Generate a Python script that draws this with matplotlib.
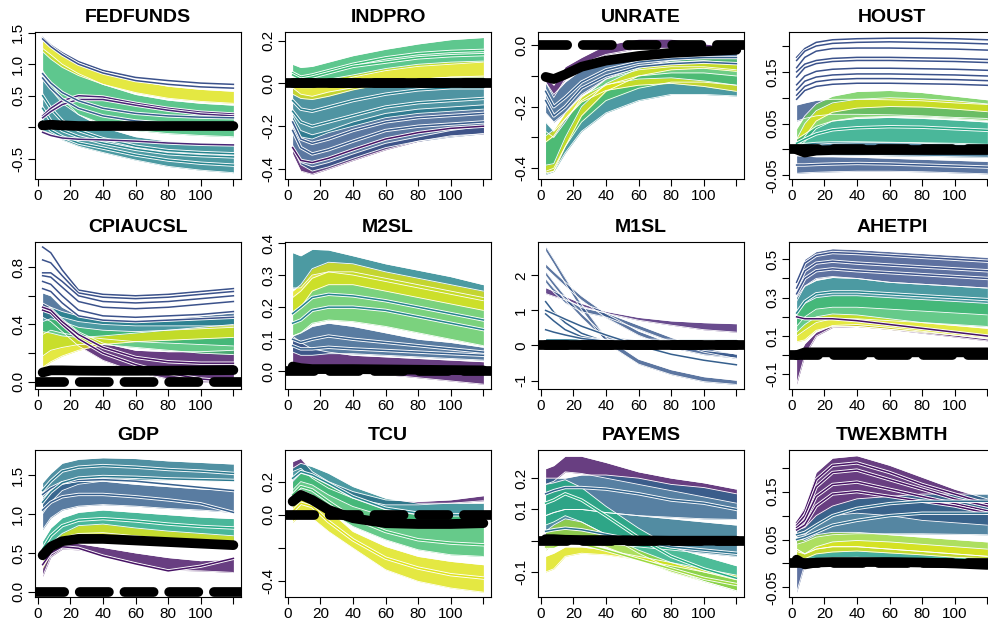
import matplotlib
matplotlib.use('Agg')
import matplotlib.pyplot as plt
import matplotlib.patheffects as pe

plt.rcParams['font.family'] = ['Liberation Sans', 'DejaVu Sans']

horizon = [3, 8, 15, 25, 40, 60, 80, 100, 120]
xticks = [0, 20, 40, 60, 80, 100, 120]
xlabels = ['0', '20', '40', '60', '80', '100', '']

# ---- FEDFUNDS ----
fedfunds_bands = [
    (0.45, [0.9, 0.7, 0.45, 0.2, 0.0, -0.15, -0.22, -0.25, -0.27], [-0.05, -0.1, -0.2, -0.3, -0.4, -0.52, -0.62, -0.68, -0.72]),
    (0.68, [1.25, 1.15, 1.0, 0.85, 0.68, 0.52, 0.43, 0.38, 0.35], [0.85, 0.6, 0.38, 0.2, 0.05, -0.05, -0.1, -0.13, -0.15]),
    (0.95, [1.38, 1.27, 1.14, 1.0, 0.87, 0.74, 0.65, 0.6, 0.57], [1.2, 1.08, 0.95, 0.82, 0.68, 0.55, 0.46, 0.41, 0.38]),
]
fedfunds_lines = [
    (0.45, [0.3, 0.1, -0.05, -0.15, -0.25, -0.35, -0.42, -0.45, -0.47]),
    (0.45, [0.5, 0.3, 0.1, -0.05, -0.18, -0.3, -0.37, -0.4, -0.42]),
    (0.45, [0.1, -0.05, -0.15, -0.25, -0.33, -0.44, -0.52, -0.57, -0.6]),
    (0.25, [1.42, 1.3, 1.18, 1.04, 0.9, 0.79, 0.74, 0.7, 0.68]),
    (0.25, [1.4, 1.28, 1.15, 1.0, 0.86, 0.74, 0.68, 0.64, 0.62]),
    (0.1, [0.18, 0.3, 0.42, 0.5, 0.48, 0.38, 0.3, 0.24, 0.21]),
    (0.1, [0.15, 0.25, 0.36, 0.44, 0.44, 0.35, 0.27, 0.21, 0.18]),
    (0.3, [0.85, 0.7, 0.55, 0.42, 0.3, 0.22, 0.18, 0.16, 0.15]),
    (0.3, [0.78, 0.62, 0.45, 0.3, 0.18, 0.1, 0.06, 0.05, 0.04]),
    (0.1, [-0.08, -0.13, -0.17, -0.19, -0.2, -0.22, -0.25, -0.27, -0.28]),
]
fedfunds_black = [0.03, 0.04, 0.03, 0.02, 0.02, 0.02, 0.02, 0.02, 0.02]
fedfunds_dash = None
fedfunds_ylim = (-0.82, 1.51)
fedfunds_yticks = [-0.5, 0.0, 0.5, 1.0, 1.5]
fedfunds_ylabels = ['-0.5', '', '0.5', '1.0', '1.5']

# ---- INDPRO ----
indpro_bands = [
    (0.05, [-0.3, -0.37, -0.39, -0.37, -0.33, -0.28, -0.25, -0.22, -0.2], [-0.33, -0.41, -0.425, -0.4, -0.36, -0.31, -0.27, -0.245, -0.235]),
    (0.28, [-0.15, -0.22, -0.24, -0.22, -0.18, -0.14, -0.12, -0.11, -0.1], [-0.3, -0.38, -0.41, -0.39, -0.35, -0.3, -0.27, -0.25, -0.235]),
    (0.42, [-0.02, -0.05, -0.06, -0.04, -0.02, 0.0, 0.02, 0.03, 0.035], [-0.2, -0.25, -0.26, -0.23, -0.2, -0.16, -0.14, -0.13, -0.12]),
    (0.68, [0.09, 0.075, 0.08, 0.1, 0.13, 0.16, 0.185, 0.205, 0.215], [0.0, -0.02, -0.02, 0.0, 0.03, 0.06, 0.08, 0.09, 0.1]),
    (0.95, [0.03, 0.01, 0.0, 0.02, 0.04, 0.07, 0.09, 0.1, 0.105], [-0.05, -0.07, -0.075, -0.06, -0.03, 0.0, 0.02, 0.03, 0.03]),
]
indpro_lines = [
    (0.28, [-0.18, -0.26, -0.28, -0.26, -0.22, -0.18, -0.16, -0.15, -0.14]),
    (0.28, [-0.22, -0.3, -0.33, -0.31, -0.27, -0.22, -0.2, -0.19, -0.18]),
    (0.42, [-0.08, -0.12, -0.13, -0.11, -0.08, -0.05, -0.03, -0.02, -0.02]),
    (0.42, [-0.13, -0.18, -0.2, -0.18, -0.15, -0.11, -0.09, -0.08, -0.07]),
    (0.68, [0.05, 0.03, 0.04, 0.06, 0.09, 0.12, 0.14, 0.15, 0.155]),
    (0.68, [0.04, 0.02, 0.03, 0.05, 0.08, 0.1, 0.12, 0.13, 0.135]),
    (0.05, [-0.3, -0.36, -0.37, -0.35, -0.31, -0.26, -0.23, -0.21, -0.2]),
]
indpro_black = [0.0, 0.0, 0.0, 0.0, 0.0, 0.0, 0.0, 0.0, 0.0]
indpro_dash = 0.0
indpro_ylim = (-0.447, 0.241)
indpro_yticks = [-0.4, -0.2, 0.0, 0.2]
indpro_ylabels = ['-0.4', '-0.2', '0.0', '0.2']

# ---- UNRATE ----
unrate_bands = [
    (0.05, [-0.1, -0.13, -0.07, -0.04, 0.0, 0.02, 0.02, 0.005, -0.01], [-0.12, -0.17, -0.11, -0.06, -0.03, -0.01, -0.01, -0.015, -0.02]),
    (0.3, [-0.12, -0.16, -0.12, -0.08, -0.06, -0.04, -0.03, -0.025, -0.025], [-0.22, -0.25, -0.22, -0.16, -0.11, -0.08, -0.07, -0.07, -0.08]),
    (0.45, [-0.25, -0.28, -0.24, -0.18, -0.13, -0.1, -0.09, -0.09, -0.1], [-0.42, -0.41, -0.35, -0.28, -0.22, -0.18, -0.16, -0.16, -0.165]),
    (0.72, [-0.28, -0.3, -0.25, -0.17, -0.11, -0.07, -0.05, -0.04, -0.04], [-0.41, -0.4, -0.33, -0.25, -0.18, -0.14, -0.12, -0.12, -0.13]),
    (0.95, [-0.295, -0.275, -0.22, -0.165, -0.128, -0.11, -0.106, -0.116, -0.13], [-0.315, -0.295, -0.24, -0.185, -0.147, -0.13, -0.124, -0.134, -0.15]),
    (0.95, [-0.39, -0.385, -0.3, -0.2, -0.125, -0.075, -0.055, -0.05, -0.06], [-0.415, -0.41, -0.33, -0.23, -0.15, -0.1, -0.08, -0.075, -0.085]),
]
unrate_lines = [
    (0.3, [-0.15, -0.2, -0.17, -0.12, -0.08, -0.055, -0.045, -0.04, -0.04]),
    (0.3, [-0.18, -0.23, -0.2, -0.14, -0.1, -0.07, -0.06, -0.055, -0.06]),
]
unrate_black = [-0.103, -0.11, -0.095, -0.07, -0.05, -0.035, -0.025, -0.02, -0.015]
unrate_dash = 0.0
unrate_ylim = (-0.435, 0.043)
unrate_yticks = [-0.4, -0.3, -0.2, -0.1, 0.0]
unrate_ylabels = ['-0.4', '', '-0.2', '', '0.0']

# ---- HOUST ----
houst_bands = [
    (0.27, [-0.012, -0.013, -0.014, -0.014, -0.015, -0.017, -0.019, -0.021, -0.023], [-0.046, -0.045, -0.044, -0.043, -0.042, -0.042, -0.043, -0.045, -0.047]),
    (0.27, [0.086, 0.09, 0.095, 0.097, 0.097, 0.096, 0.094, 0.09, 0.087], [0.055, 0.06, 0.065, 0.068, 0.068, 0.067, 0.065, 0.062, 0.06]),
    (0.78, [0.04, 0.065, 0.088, 0.103, 0.112, 0.114, 0.11, 0.103, 0.096], [0.0, 0.015, 0.04, 0.055, 0.062, 0.064, 0.063, 0.06, 0.056]),
    (0.95, [0.02, 0.05, 0.075, 0.09, 0.097, 0.1, 0.098, 0.094, 0.088], [0.0, 0.025, 0.055, 0.072, 0.08, 0.083, 0.082, 0.078, 0.073]),
    (0.6, [0.02, 0.03, 0.045, 0.055, 0.06, 0.062, 0.06, 0.057, 0.053], [0.0, 0.005, 0.01, 0.012, 0.013, 0.013, 0.012, 0.01, 0.008]),
    (0.35, [0.01, 0.012, 0.014, 0.015, 0.015, 0.014, 0.013, 0.012, 0.01], [-0.01, -0.01, -0.01, -0.01, -0.011, -0.012, -0.013, -0.014, -0.015]),
]
houst_lines = [
    (0.25, [0.178, 0.195, 0.207, 0.212, 0.214, 0.215, 0.215, 0.214, 0.212]),
    (0.25, [0.172, 0.19, 0.2, 0.205, 0.207, 0.208, 0.207, 0.206, 0.204]),
    (0.25, [0.158, 0.178, 0.19, 0.195, 0.196, 0.196, 0.195, 0.194, 0.192]),
    (0.25, [0.15, 0.165, 0.172, 0.176, 0.178, 0.178, 0.177, 0.176, 0.174]),
    (0.25, [0.14, 0.158, 0.166, 0.17, 0.172, 0.172, 0.171, 0.17, 0.168]),
    (0.25, [0.125, 0.142, 0.151, 0.155, 0.157, 0.157, 0.156, 0.155, 0.153]),
    (0.25, [0.115, 0.132, 0.14, 0.144, 0.146, 0.146, 0.145, 0.144, 0.142]),
    (0.25, [0.105, 0.122, 0.131, 0.135, 0.137, 0.137, 0.136, 0.135, 0.133]),
    (0.25, [0.097, 0.114, 0.122, 0.126, 0.128, 0.128, 0.127, 0.126, 0.124]),
    (0.6, [0.012, 0.02, 0.03, 0.038, 0.042, 0.044, 0.043, 0.04, 0.037]),
    (0.27, [-0.03, -0.03, -0.029, -0.028, -0.027, -0.028, -0.03, -0.032, -0.034]),
]
houst_black = [0.0, -0.006, -0.002, -0.001, -0.001, -0.001, -0.001, -0.001, -0.001]
houst_dash = 0.0
houst_ylim = (-0.057, 0.227)
houst_yticks = [-0.05, 0.0, 0.05, 0.1, 0.15, 0.2]
houst_ylabels = ['-0.05', '', '0.05', '', '0.15', '']

# ---- CPIAUCSL ----
cpi_bands = [
    (0.05, [0.55, 0.52, 0.44, 0.35, 0.27, 0.22, 0.21, 0.21, 0.22], [0.45, 0.42, 0.35, 0.25, 0.15, 0.07, 0.02, 0.0, 0.0]),
    (0.3, [0.62, 0.6, 0.52, 0.46, 0.44, 0.43, 0.44, 0.46, 0.48], [0.5, 0.48, 0.45, 0.42, 0.4, 0.39, 0.39, 0.39, 0.39]),
    (0.45, [0.5, 0.52, 0.49, 0.46, 0.44, 0.43, 0.43, 0.44, 0.45], [0.33, 0.36, 0.34, 0.32, 0.3, 0.28, 0.27, 0.26, 0.25]),
    (0.7, [0.42, 0.44, 0.42, 0.38, 0.36, 0.35, 0.36, 0.37, 0.38], [0.18, 0.22, 0.24, 0.26, 0.26, 0.24, 0.22, 0.2, 0.19]),
    (0.95, [0.35, 0.34, 0.32, 0.31, 0.32, 0.34, 0.36, 0.38, 0.4], [0.1, 0.14, 0.18, 0.22, 0.26, 0.28, 0.29, 0.3, 0.31]),
]
cpi_lines = [
    (0.05, [0.5, 0.48, 0.4, 0.3, 0.2, 0.12, 0.06, 0.02, 0.0]),
    (0.05, [0.52, 0.5, 0.42, 0.33, 0.24, 0.17, 0.14, 0.13, 0.13]),
    (0.25, [0.94, 0.9, 0.78, 0.64, 0.61, 0.6, 0.61, 0.63, 0.65]),
    (0.25, [0.85, 0.83, 0.74, 0.62, 0.59, 0.58, 0.59, 0.61, 0.63]),
    (0.25, [0.76, 0.76, 0.7, 0.6, 0.56, 0.55, 0.56, 0.58, 0.6]),
    (0.25, [0.74, 0.73, 0.66, 0.56, 0.52, 0.51, 0.52, 0.54, 0.56]),
    (0.25, [0.7, 0.68, 0.6, 0.5, 0.46, 0.45, 0.46, 0.47, 0.49]),
    (0.25, [0.65, 0.63, 0.55, 0.46, 0.43, 0.42, 0.43, 0.44, 0.45]),
]
cpi_black = [0.065, 0.08, 0.08, 0.078, 0.077, 0.077, 0.078, 0.08, 0.082]
cpi_dash = 0.0
cpi_ylim = (-0.05, 0.975)
cpi_yticks = [0.0, 0.2, 0.4, 0.6, 0.8]
cpi_ylabels = ['0.0', '', '0.4', '', '0.8']

# ---- M2SL ----
m2_bands = [
    (0.05, [0.11, 0.09, 0.07, 0.06, 0.05, 0.045, 0.04, 0.035, 0.03], [0.02, 0.015, 0.01, 0.005, 0.0, -0.01, -0.02, -0.03, -0.04]),
    (0.3, [0.11, 0.12, 0.14, 0.15, 0.14, 0.12, 0.1, 0.09, 0.075], [0.06, 0.05, 0.05, 0.055, 0.055, 0.05, 0.045, 0.04, 0.035]),
    (0.45, [0.37, 0.36, 0.38, 0.378, 0.36, 0.335, 0.315, 0.295, 0.27], [0.26, 0.26, 0.3, 0.31, 0.3, 0.28, 0.26, 0.24, 0.22]),
    (0.75, [0.23, 0.25, 0.29, 0.31, 0.31, 0.29, 0.27, 0.25, 0.23], [0.11, 0.12, 0.15, 0.16, 0.155, 0.14, 0.12, 0.1, 0.08]),
    (0.95, [0.25, 0.27, 0.32, 0.34, 0.335, 0.31, 0.29, 0.27, 0.25], [0.18, 0.2, 0.25, 0.27, 0.27, 0.25, 0.23, 0.21, 0.19]),
]
m2_lines = [
    (0.45, [0.18, 0.2, 0.23, 0.24, 0.235, 0.22, 0.2, 0.18, 0.16]),
    (0.45, [0.15, 0.16, 0.19, 0.2, 0.2, 0.19, 0.17, 0.15, 0.13]),
    (0.3, [0.1, 0.09, 0.1, 0.11, 0.1, 0.09, 0.08, 0.07, 0.06]),
    (0.3, [0.08, 0.07, 0.07, 0.075, 0.07, 0.065, 0.06, 0.055, 0.05]),
]
m2_black = [0.015, 0.01, 0.007, 0.007, 0.007, 0.006, 0.005, 0.004, 0.003]
m2_dash = 0.0
m2_ylim = (-0.055, 0.403)
m2_yticks = [0.0, 0.1, 0.2, 0.3, 0.4]
m2_ylabels = ['0.0', '0.1', '0.2', '0.3', '0.4']

# ---- M1SL ----
m1_bands = [
    (0.4, [0.2, 0.2, 0.2, 0.19, 0.18, 0.18, 0.18, 0.18, 0.18], [0.05, 0.06, 0.07, 0.08, 0.08, 0.08, 0.08, 0.08, 0.08]),
    (0.1, [1.65, 1.55, 1.4, 1.2, 0.97, 0.8, 0.7, 0.65, 0.62], [1.48, 1.4, 1.3, 1.12, 0.92, 0.72, 0.58, 0.45, 0.38]),
    (0.27, [2.83, 2.46, 1.93, 1.18, 0.23, -0.39, -0.69, -0.89, -0.99], [2.69, 2.32, 1.77, 1.02, 0.07, -0.53, -0.83, -1.03, -1.11]),
    (0.27, [2.33, 2.11, 1.81, 1.41, 0.91, 0.41, 0.06, -0.14, -0.24], [2.21, 1.99, 1.69, 1.29, 0.79, 0.29, -0.06, -0.26, -0.36]),
    (0.27, [2.11, 1.81, 1.41, 0.91, 0.27, 0.16, 0.12, 0.12, 0.12], [1.99, 1.69, 1.29, 0.79, 0.13, 0.06, 0.03, 0.03, 0.03]),
    (0.27, [1.91, 1.63, 1.33, 1.08, 0.93, 0.58, 0.23, -0.07, -0.25], [1.79, 1.51, 1.21, 0.96, 0.81, 0.46, 0.11, -0.19, -0.37]),
]
m1_lines = [
    (0.3, [1.25, 0.95, 0.65, 0.35, 0.1, 0.1, 0.1, 0.1, 0.1]),
    (0.3, [0.9, 0.7, 0.45, 0.25, 0.12, 0.1, 0.1, 0.1, 0.1]),
    (0.3, [0.45, 0.38, 0.3, 0.2, 0.12, 0.1, 0.1, 0.1, 0.1]),
    (0.3, [1.0, 0.9, 0.75, 0.55, 0.3, 0.0, -0.25, -0.42, -0.55]),
]
m1_black = [0.0, 0.0, 0.0, 0.0, 0.0, 0.0, 0.0, 0.0, 0.0]
m1_dash = 0.0
m1_ylim = (-1.24, 2.95)
m1_yticks = [-1, 0, 1, 2]
m1_ylabels = ['-1', '0', '1', '2']

# ---- AHETPI ----
ahetpi_bands = [
    (0.25, [0.4, 0.5, 0.54, 0.555, 0.55, 0.54, 0.53, 0.52, 0.51], [0.28, 0.36, 0.4, 0.41, 0.4, 0.38, 0.37, 0.36, 0.35]),
    (0.45, [0.3, 0.36, 0.39, 0.405, 0.4, 0.38, 0.37, 0.36, 0.35], [0.15, 0.2, 0.24, 0.25, 0.25, 0.24, 0.23, 0.22, 0.21]),
    (0.7, [0.22, 0.27, 0.3, 0.31, 0.31, 0.3, 0.29, 0.28, 0.27], [0.1, 0.13, 0.17, 0.19, 0.19, 0.18, 0.17, 0.16, 0.15]),
    (0.05, [-0.02, 0.06, 0.12, 0.155, 0.16, 0.145, 0.125, 0.105, 0.085], [-0.15, 0.0, 0.1, 0.145, 0.15, 0.135, 0.115, 0.095, 0.075]),
    (0.95, [0.12, 0.16, 0.2, 0.215, 0.21, 0.19, 0.17, 0.155, 0.14], [0.07, 0.08, 0.13, 0.15, 0.15, 0.135, 0.12, 0.105, 0.09]),
]
ahetpi_lines = [
    (0.25, [0.38, 0.48, 0.52, 0.535, 0.53, 0.52, 0.51, 0.5, 0.49]),
    (0.25, [0.35, 0.44, 0.48, 0.49, 0.48, 0.47, 0.46, 0.45, 0.44]),
    (0.25, [0.32, 0.4, 0.44, 0.45, 0.44, 0.43, 0.42, 0.41, 0.4]),
    (0.45, [0.22, 0.28, 0.32, 0.33, 0.33, 0.32, 0.31, 0.3, 0.29]),
    (0.05, [0.2, 0.19, 0.19, 0.19, 0.18, 0.16, 0.14, 0.12, 0.1]),
]
ahetpi_black = [0.0, 0.015, 0.015, 0.015, 0.015, 0.015, 0.015, 0.015, 0.015]
ahetpi_dash = 0.0
ahetpi_ylim = (-0.176, 0.59)
ahetpi_yticks = [-0.1, 0.0, 0.1, 0.2, 0.3, 0.4, 0.5]
ahetpi_ylabels = ['-0.1', '', '0.1', '', '0.3', '', '0.5']

# ---- GDP ----
gdp_bands = [
    (0.05, [0.45, 0.58, 0.63, 0.62, 0.57, 0.5, 0.44, 0.4, 0.42], [0.2, 0.45, 0.55, 0.54, 0.47, 0.37, 0.28, 0.27, 0.25]),
    (0.4, [1.4, 1.52, 1.65, 1.7, 1.72, 1.71, 1.68, 1.66, 1.64], [1.0, 1.15, 1.3, 1.38, 1.42, 1.43, 1.43, 1.43, 1.42]),
    (0.3, [1.2, 1.3, 1.38, 1.42, 1.42, 1.38, 1.35, 1.32, 1.3], [0.8, 0.95, 1.05, 1.1, 1.12, 1.1, 1.07, 1.05, 1.02]),
    (0.6, [0.65, 0.82, 0.95, 1.02, 1.05, 1.02, 0.99, 0.96, 0.94], [0.35, 0.55, 0.7, 0.75, 0.76, 0.72, 0.68, 0.65, 0.62]),
    (0.95, [0.45, 0.62, 0.75, 0.85, 0.87, 0.82, 0.78, 0.75, 0.72], [0.3, 0.5, 0.62, 0.7, 0.72, 0.68, 0.64, 0.61, 0.59]),
]
gdp_lines = [
    (0.3, [1.25, 1.33, 1.4, 1.43, 1.44, 1.42, 1.38, 1.34, 1.3]),
    (0.3, [1.05, 1.15, 1.22, 1.25, 1.25, 1.22, 1.18, 1.13, 1.02]),
    (0.4, [1.3, 1.42, 1.55, 1.6, 1.62, 1.6, 1.57, 1.55, 1.52]),
    (0.4, [1.15, 1.28, 1.4, 1.46, 1.48, 1.47, 1.45, 1.44, 1.43]),
    (0.6, [0.55, 0.72, 0.85, 0.92, 0.94, 0.91, 0.87, 0.84, 0.82]),
    (0.05, [0.35, 0.5, 0.58, 0.56, 0.46, 0.36, 0.27, 0.33, 0.43]),
]
gdp_black = [0.47, 0.58, 0.65, 0.68, 0.68, 0.66, 0.64, 0.62, 0.6]
gdp_dash = 0.0
gdp_ylim = (-0.065, 1.82)
gdp_yticks = [0.0, 0.5, 1.0, 1.5]
gdp_ylabels = ['0.0', '0.5', '1.0', '1.5']

# ---- TCU ----
tcu_bands = [
    (0.05, [0.32, 0.34, 0.26, 0.2, 0.14, 0.09, 0.08, 0.09, 0.115], [0.26, 0.28, 0.22, 0.16, 0.1, 0.06, 0.06, 0.07, 0.085]),
    (0.45, [0.28, 0.31, 0.29, 0.25, 0.17, 0.1, 0.07, 0.07, 0.07], [0.15, 0.2, 0.18, 0.12, 0.05, -0.01, -0.04, -0.05, -0.05]),
    (0.7, [0.2, 0.25, 0.23, 0.18, 0.1, 0.03, 0.0, 0.0, 0.0], [0.05, 0.1, 0.08, 0.02, -0.07, -0.15, -0.21, -0.24, -0.25]),
    (0.95, [0.1, 0.15, 0.12, 0.03, -0.1, -0.19, -0.25, -0.28, -0.3], [-0.045, 0.0, -0.02, -0.1, -0.2, -0.33, -0.4, -0.44, -0.465]),
]
tcu_lines = [
    (0.45, [0.22, 0.26, 0.24, 0.19, 0.11, 0.04, 0.01, 0.0, 0.0]),
    (0.7, [0.12, 0.17, 0.15, 0.08, -0.02, -0.1, -0.15, -0.17, -0.18]),
    (0.95, [0.02, 0.07, 0.05, -0.04, -0.15, -0.26, -0.32, -0.36, -0.38]),
]
tcu_black = [0.08, 0.12, 0.09, 0.03, -0.02, -0.05, -0.055, -0.055, -0.05]
tcu_dash = 0.0
tcu_ylim = (-0.494, 0.39)
tcu_yticks = [-0.4, -0.2, 0.0, 0.2]
tcu_ylabels = ['-0.4', '', '0.0', '0.2']

# ---- PAYEMS ----
payems_bands = [
    (0.05, [0.23, 0.24, 0.27, 0.27, 0.25, 0.22, 0.2, 0.185, 0.165], [0.18, 0.19, 0.22, 0.215, 0.2, 0.18, 0.16, 0.14, 0.12]),
    (0.32, [0.2, 0.2, 0.2, 0.21, 0.21, 0.2, 0.18, 0.17, 0.15], [0.08, 0.09, 0.1, 0.1, 0.09, 0.08, 0.075, 0.07, 0.068]),
    (0.38, [0.08, 0.09, 0.1, 0.1, 0.09, 0.08, 0.07, 0.06, 0.05], [0.0, 0.0, 0.0, -0.005, -0.01, -0.02, -0.03, -0.04, -0.05]),
    (0.62, [0.18, 0.185, 0.195, 0.17, 0.11, 0.04, -0.02, -0.05, -0.08], [0.05, 0.06, 0.08, 0.06, 0.02, -0.04, -0.09, -0.13, -0.16]),
    (0.85, [0.03, 0.05, 0.07, 0.06, 0.02, -0.03, -0.07, -0.1, -0.12], [-0.03, -0.01, 0.01, 0.0, -0.02, -0.06, -0.1, -0.13, -0.16]),
    (0.95, [-0.05, -0.04, -0.02, -0.02, -0.03, -0.05, -0.07, -0.09, -0.11], [-0.1, -0.09, -0.05, -0.04, -0.045, -0.06, -0.08, -0.1, -0.125]),
]
payems_lines = [
    (0.32, [0.15, 0.16, 0.17, 0.17, 0.165, 0.15, 0.13, 0.12, 0.1]),
    (0.62, [0.12, 0.13, 0.15, 0.13, 0.08, 0.01, -0.05, -0.09, -0.12]),
    (0.85, [-0.02, -0.02, -0.005, -0.01, -0.03, -0.06, -0.09, -0.12, -0.14]),
    (0.38, [0.03, 0.035, 0.04, 0.035, 0.02, 0.0, -0.02, -0.03, -0.04]),
]
payems_black = [0.005, 0.005, 0.003, 0.002, 0.002, 0.001, 0.0, 0.0, 0.0]
payems_dash = 0.0
payems_ylim = (-0.18, 0.29)
payems_yticks = [-0.1, 0.0, 0.1, 0.2]
payems_ylabels = ['-0.1', '', '0.1', '0.2']

# ---- TWEXBMTH ----
twex_bands = [
    (0.25, [-0.005, 0.005, 0.01, 0.01, 0.01, 0.008, 0.006, 0.004, 0.002], [-0.06, -0.002, 0.0, 0.0, 0.0, 0.0, 0.0, 0.0, 0.0]),
    (0.05, [0.09, 0.12, 0.19, 0.22, 0.225, 0.205, 0.18, 0.155, 0.135], [0.06, 0.06, 0.08, 0.1, 0.105, 0.1, 0.09, 0.085, 0.08]),
    (0.35, [0.07, 0.075, 0.1, 0.12, 0.135, 0.14, 0.145, 0.145, 0.145], [0.04, 0.045, 0.055, 0.06, 0.062, 0.062, 0.062, 0.061, 0.06]),
    (0.55, [0.03, 0.02, 0.03, 0.035, 0.035, 0.03, 0.025, 0.02, 0.015], [0.01, 0.0, 0.01, 0.012, 0.013, 0.01, 0.007, 0.004, 0.002]),
    (0.85, [0.055, 0.048, 0.06, 0.065, 0.065, 0.06, 0.055, 0.05, 0.045], [0.025, 0.02, 0.03, 0.035, 0.035, 0.03, 0.025, 0.02, 0.015]),
    (0.95, [0.03, 0.02, 0.035, 0.045, 0.048, 0.045, 0.04, 0.035, 0.03], [0.015, 0.01, 0.02, 0.024, 0.026, 0.022, 0.018, 0.013, 0.01]),
]
twex_lines = [
    (0.05, [0.085, 0.11, 0.175, 0.205, 0.21, 0.19, 0.165, 0.145, 0.125]),
    (0.05, [0.08, 0.1, 0.16, 0.19, 0.195, 0.175, 0.155, 0.135, 0.12]),
    (0.05, [0.075, 0.09, 0.14, 0.165, 0.17, 0.155, 0.14, 0.125, 0.11]),
    (0.05, [0.07, 0.08, 0.12, 0.145, 0.15, 0.14, 0.13, 0.12, 0.105]),
    (0.35, [0.06, 0.065, 0.08, 0.1, 0.115, 0.125, 0.13, 0.13, 0.13]),
    (0.35, [0.05, 0.055, 0.065, 0.08, 0.09, 0.1, 0.105, 0.105, 0.105]),
]
twex_black = [0.008, -0.002, 0.002, 0.003, 0.003, 0.003, 0.002, 0.0, -0.003]
twex_dash = 0.0
twex_ylim = (-0.07, 0.237)
twex_yticks = [-0.05, 0.0, 0.05, 0.1, 0.15, 0.2]
twex_ylabels = ['-0.05', '', '0.05', '', '0.15', '']

panels = [
    ('FEDFUNDS', fedfunds_bands, fedfunds_lines, fedfunds_black, fedfunds_dash, fedfunds_ylim, fedfunds_yticks, fedfunds_ylabels),
    ('INDPRO', indpro_bands, indpro_lines, indpro_black, indpro_dash, indpro_ylim, indpro_yticks, indpro_ylabels),
    ('UNRATE', unrate_bands, unrate_lines, unrate_black, unrate_dash, unrate_ylim, unrate_yticks, unrate_ylabels),
    ('HOUST', houst_bands, houst_lines, houst_black, houst_dash, houst_ylim, houst_yticks, houst_ylabels),
    ('CPIAUCSL', cpi_bands, cpi_lines, cpi_black, cpi_dash, cpi_ylim, cpi_yticks, cpi_ylabels),
    ('M2SL', m2_bands, m2_lines, m2_black, m2_dash, m2_ylim, m2_yticks, m2_ylabels),
    ('M1SL', m1_bands, m1_lines, m1_black, m1_dash, m1_ylim, m1_yticks, m1_ylabels),
    ('AHETPI', ahetpi_bands, ahetpi_lines, ahetpi_black, ahetpi_dash, ahetpi_ylim, ahetpi_yticks, ahetpi_ylabels),
    ('GDP', gdp_bands, gdp_lines, gdp_black, gdp_dash, gdp_ylim, gdp_yticks, gdp_ylabels),
    ('TCU', tcu_bands, tcu_lines, tcu_black, tcu_dash, tcu_ylim, tcu_yticks, tcu_ylabels),
    ('PAYEMS', payems_bands, payems_lines, payems_black, payems_dash, payems_ylim, payems_yticks, payems_ylabels),
    ('TWEXBMTH', twex_bands, twex_lines, twex_black, twex_dash, twex_ylim, twex_yticks, twex_ylabels),
]

# Figure layout in pixels (the last column runs past the right edge)
W, H = 988, 624
col_left = [35, 285, 538, 789]
row_top = [32, 242, 450]
ax_w, ax_h = 206, 147

fig = plt.figure(figsize=(W / 100, H / 100), dpi=100)
cmap = plt.get_cmap('viridis')
edge = [pe.Stroke(linewidth=2.4, foreground='white'), pe.Normal()]

for i, (name, bands, lines, black, dash, ylim, yticks, ylabels) in enumerate(panels):
    r, c = divmod(i, 4)
    ax = fig.add_axes([col_left[c] / W, 1 - (row_top[r] + ax_h) / H, ax_w / W, ax_h / H])
    # bundles of responses, drawn as filled bands with white edges
    for cv, upper, lower in bands:
        ax.fill_between(horizon, lower, upper, color=cmap(cv), lw=0, alpha=0.82)
        ax.plot(horizon, upper, color='white', lw=0.6)
        ax.plot(horizon, lower, color='white', lw=0.6)
    for cv, vals in lines:
        ax.plot(horizon, vals, color=cmap(cv), lw=1.1, path_effects=edge)
    if dash is not None:
        ax.axhline(dash, color='black', lw=7, ls=(0, (3.0, 1.6)), dash_capstyle='round')
    ax.plot(horizon, black, color='black', lw=7, solid_capstyle='round')

    ax.set_xlim(-1.68, 124.68)
    ax.set_ylim(*ylim)
    ax.set_xticks(xticks)
    ax.set_xticklabels(xlabels, fontsize=11)
    ax.set_yticks(yticks)
    ax.set_yticklabels(ylabels, fontsize=11, rotation=90, va='center')
    ax.tick_params(direction='out', length=5, width=0.8, pad=2)
    for s in ax.spines.values():
        s.set_linewidth(0.8)
    ax.set_title(name, fontsize=14, fontweight='bold', pad=7)

fig.savefig('out.png', dpi=100)
